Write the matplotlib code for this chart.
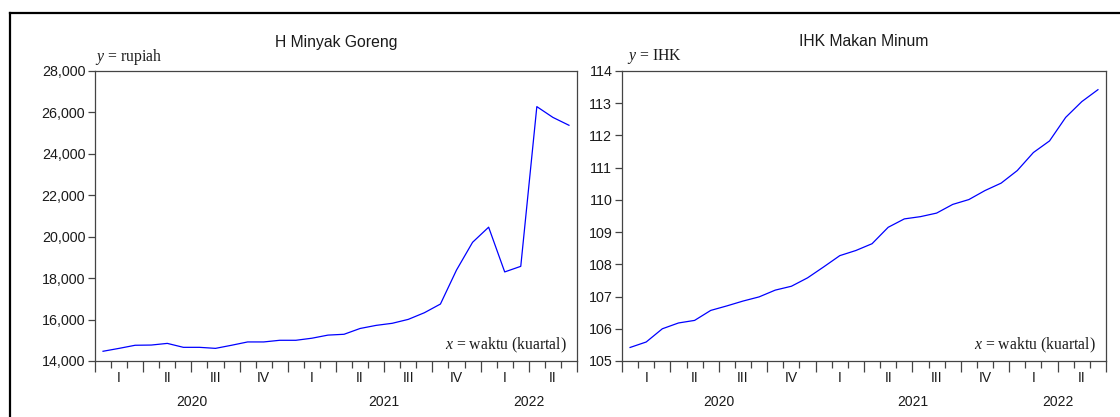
import matplotlib
matplotlib.use("Agg")
import matplotlib.pyplot as plt
from matplotlib.ticker import MultipleLocator, StrMethodFormatter
from matplotlib.lines import Line2D

# bulanan Jan 2020 - Jun 2022
harga_minyak = [14470, 14610, 14760, 14770, 14850, 14660, 14660, 14610, 14760, 14920,
                14920, 15000, 15000, 15100, 15250, 15290, 15570, 15720, 15820, 16010,
                16330, 16750, 18390, 19730, 20460, 18300, 18570, 26280, 25760, 25380]
ihk_makan = [105.42, 105.59, 106.00, 106.18, 106.26, 106.57, 106.71, 106.86, 106.99, 107.20,
             107.32, 107.58, 107.92, 108.27, 108.43, 108.64, 109.15, 109.41, 109.48, 109.59,
             109.86, 110.01, 110.29, 110.52, 110.91, 111.47, 111.83, 112.56, 113.05, 113.42]
kuartal = ["I", "II", "III", "IV", "I", "II", "III", "IV", "I", "II"]
tahun = ["2020", "2021", "2022"]
bulan_per_tahun = [12, 12, 6]

plt.rcParams["mathtext.fontset"] = "custom"
plt.rcParams["mathtext.rm"] = "Liberation Serif"
plt.rcParams["mathtext.it"] = "Liberation Serif:italic"

sans = ["Liberation Sans", "DejaVu Sans"]
serif = ["Liberation Serif", "DejaVu Serif"]
txt_col = "#1a1a1a"
spine_col = "#444444"

fig = plt.figure(figsize=(11.2, 4.17), dpi=100)

# bingkai luar
fig.add_artist(Line2D([10/1120, 1.01], [1-13/417, 1-13/417], transform=fig.transFigure,
                      color="black", lw=1.6))
fig.add_artist(Line2D([10/1120, 10/1120], [-0.01, 1-13/417], transform=fig.transFigure,
                      color="black", lw=1.6))

panels = [
    dict(rect=[95/1120, 1-361/417, 482/1120, 290/417], data=harga_minyak,
         title="H Minyak Goreng", ylab="rupiah", ylim=(14000, 28000), step=2000,
         fmt="{x:,.0f}", ylab_dx=0),
    dict(rect=[622/1120, 1-361/417, 484/1120, 290/417], data=ihk_makan,
         title="IHK Makan Minum", ylab="IHK", ylim=(105, 114), step=1,
         fmt="{x:.0f}", ylab_dx=5),
]

for p in panels:
    ax = fig.add_axes(p["rect"])
    n = len(p["data"])
    x = [i + 0.5 for i in range(n)]
    ax.plot(x, p["data"], color="#0000ff", lw=0.9)
    ax.set_xlim(0, n)
    ax.set_ylim(*p["ylim"])
    ax.yaxis.set_major_locator(MultipleLocator(p["step"]))
    ax.yaxis.set_major_formatter(StrMethodFormatter(p["fmt"]))
    ax.xaxis.set_major_locator(MultipleLocator(3))
    ax.xaxis.set_minor_locator(MultipleLocator(1))
    ax.set_xticklabels([])
    ax.tick_params(axis="y", length=5, width=0.9, color=spine_col, labelsize=10.3,
                   labelcolor=txt_col, pad=2)
    ax.tick_params(axis="x", which="major", length=8, width=0.9, color=spine_col)
    ax.tick_params(axis="x", which="minor", length=5, width=0.9, color=spine_col)
    for lab in ax.get_yticklabels():
        lab.set_fontfamily(sans)
    for s in ax.spines.values():
        s.set_color(spine_col)
        s.set_linewidth(0.9)

    xt = ax.get_xaxis_transform()
    for q, lab in enumerate(kuartal):
        ax.text(1.5 + 3*q, -17/290, lab, transform=xt, ha="center", va="center",
                fontsize=10, family=sans, color=txt_col)
    start = 0
    for th, nb in zip(tahun, bulan_per_tahun):
        ax.text(start + nb/2, -41/290, th, transform=xt, ha="center", va="center",
                fontsize=10, family=sans, color=txt_col)
        start += nb

    ax.text(0.5, 1 + 29/290, p["title"], transform=ax.transAxes, ha="center",
            va="center", fontsize=11.3, family=sans, color=txt_col)
    ax.annotate("$\\it{y}$ = " + p["ylab"], xy=(0, 1), xycoords="axes fraction",
                xytext=(p["ylab_dx"], 14), textcoords="offset pixels",
                ha="left", va="center", fontsize=11.3, family=serif, color=txt_col)
    ax.annotate("$\\it{x}$ = waktu (kuartal)", xy=(1, 0), xycoords="axes fraction",
                xytext=(-10, 16), textcoords="offset pixels",
                ha="right", va="center", fontsize=11.3, family=serif, color=txt_col)

fig.savefig("out.png", dpi=100)
